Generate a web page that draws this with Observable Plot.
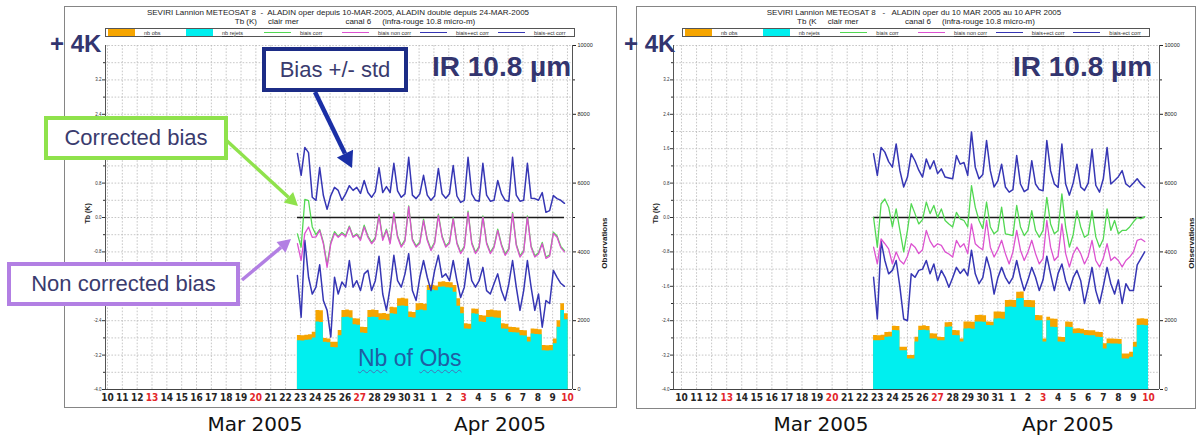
<!DOCTYPE html>
<html><head><meta charset="utf-8">
<script src="https://cdn.jsdelivr.net/npm/d3@7"></script>
<script src="https://cdn.jsdelivr.net/npm/@observablehq/plot@0.6"></script>
<style>
body{margin:0;background:#fff;font-family:"Liberation Sans",Arial,sans-serif;}
#root{position:relative;width:1198px;height:441px;overflow:hidden;background:#fff;}
.frame{position:absolute;border:1.5px solid #858585;box-sizing:border-box;}
.ttl{position:absolute;transform:translateX(-50%);font-size:8px;line-height:9px;color:#222;white-space:pre;}
.legend{position:absolute;height:9px;border:1px solid #555;box-sizing:border-box;display:flex;align-items:center;background:#fff;}
.legend .it{flex:1;display:flex;align-items:center;height:100%;}
.legend .sw{width:27px;margin-left:2px;}
.legend .lb{margin-left:9px;font-size:5.5px;color:#333;text-decoration:underline;white-space:nowrap;}
.big{position:absolute;color:#33356f;font-weight:bold;white-space:nowrap;}
.box{position:absolute;background:#fff;box-sizing:border-box;color:#3a3b6e;font-size:22px;display:flex;align-items:center;justify-content:center;white-space:nowrap;}
.month{position:absolute;transform:translateX(-50%);font-family:"DejaVu Sans",Verdana,sans-serif;font-size:20px;color:#111;white-space:nowrap;}
.plot{position:absolute;}
</style></head><body><div id="root"></div>
<script>
// ---------- shared ticks / labels ----------
const dayTicks  = [10,11,12,13,14,15,16,17,18,19,20,21,22,23,24,25,26,27,28,29,30,31,32,33,34,35,36,37,38,39,40,41];
const dayLabels = ["10","11","12","13","14","15","16","17","18","19","20","21","22","23","24","25","26","27","28","29","30","31","1","2","3","4","5","6","7","8","9","10"];
const sundays   = [13,20,27,34,41];
const kLabels   = [-4.0,-3.2,-2.4,-1.6,-0.8,0.0,0.8,1.6,2.4,3.2];
const kMinor    = [-3.6,-2.8,-2.0,-1.2,-0.4,0.4,1.2,2.0,2.8,3.6];
const obsLabels = [0,2000,4000,6000,8000,10000];
const obsMinor  = [1000,3000,5000,7000,9000];
const stepDays  = 0.25;   // 6-hourly data

// ---------- left panel (ALADIN double) ----------
const leftStart = 22.8;
const leftUpper = [1.49,0.98,1.63,1.51, 0.47,0.40,1.16,0.51, 0.19,0.51,0.70,0.63, 0.40,0.55,0.74,0.63,
  0.70,0.56,0.86,0.58, 0.47,0.60,1.16,0.58, 0.72,0.58,1.26,0.62, 0.47,0.55,1.40,0.52, 0.44,0.55,0.98,0.52,
  0.40,0.50,1.14,0.55, 0.45,0.55,1.21,0.50, 0.35,0.40,1.40,0.55, 0.40,0.38,1.26,0.52, 0.38,0.40,0.86,0.55,
  0.40,0.38,1.40,0.52, 0.38,0.40,1.26,0.45, 0.44,0.40,0.58,0.12, 0.16,0.51,0.44,0.40, 0.33];
const leftCorr = [-0.38,-0.69,0.42,0.39, -0.22,-0.40,-0.28,-0.58, -1.10,-0.58,-0.33,-0.44, -0.35,-0.42,-0.20,-0.44,
  -0.38,-0.50,-0.18,-0.43, -0.58,-0.47,0.08,-0.50, -0.27,-0.58,0.12,-0.43, -0.66,-0.52,0.27,-0.50, -0.66,-0.57,-0.04,-0.50,
  -0.74,-0.57,0.08,-0.43, -0.66,-0.57,0.00,-0.58, -0.81,-0.67,0.15,-0.58, -0.81,-0.67,0.04,-0.58, -0.81,-0.67,-0.27,-0.62,
  -0.85,-0.72,0.12,-0.62, -0.89,-0.77,0.04,-0.66, -0.89,-0.82,-0.58,-0.92, -0.87,-0.34,-0.43,-0.67, -0.77];
const leftNonCorr = [-0.61,-1.00,-0.37,-0.22, -0.46,-0.45,-0.30,-0.61, -1.16,-0.61,-0.37,-0.46, -0.38,-0.45,-0.22,-0.46,
  -0.40,-0.53,-0.22,-0.46, -0.61,-0.50,0.05,-0.53, -0.30,-0.61,0.09,-0.46, -0.69,-0.55,0.25,-0.53, -0.69,-0.60,-0.07,-0.53,
  -0.77,-0.60,0.05,-0.46, -0.69,-0.60,-0.03,-0.61, -0.84,-0.70,0.12,-0.61, -0.84,-0.70,0.01,-0.61, -0.84,-0.70,-0.30,-0.65,
  -0.88,-0.75,0.09,-0.65, -0.92,-0.80,0.01,-0.69, -0.92,-0.85,-0.61,-0.95, -0.90,-0.37,-0.46,-0.70, -0.80];
const leftLower = [-1.35,-2.32,-0.53,-1.39, -1.78,-1.62,-1.10,-1.93, -2.16,-2.78,-1.39,-1.78, -1.50,-1.62,-1.00,-1.62,
  -1.47,-1.70,-1.31,-1.23, -1.70,-1.47,-0.90,-1.78, -2.16,-1.62,-0.88,-1.47, -1.62,-1.31,-0.84,-1.70, -1.93,-1.39,-1.00,-1.39,
  -1.70,-1.23,-0.88,-1.39, -1.31,-1.47,-1.00,-1.47, -1.86,-1.62,-0.95,-1.47, -1.62,-1.47,-1.16,-1.70, -1.78,-1.54,-1.31,-1.70,
  -1.93,-1.54,-1.00,-1.62, -2.16,-1.70,-1.00,-1.62, -2.16,-1.78,-2.55,-1.93, -2.00,-1.23,-1.39,-1.53, -1.60];
const leftTotal = [1570,1560,1580,1590, 1665, 2300,2290, 1480,1470, 1375,1370, 1715, 2300,2310,2290, 2060,2050, 1810,1800,
  2300,2310,2300, 2200,2210,2190, 2390,2380, 2640,2650,2630, 2250,2240, 2490,2500,2480, 3020,3030,3010, 3120,3130,3110,3100,
  3020, 2640, 2390, 1910,1900, 2340,2330, 2150,2140, 2300,2310,2290,2280, 1910,1900, 1810,1800,1790, 1715,1710, 1520,
  1760,1750,1740, 1280,1270,1280, 1470, 2000, 2490, 2200];
const leftCyan = [1420,1410,1430,1440, 1500, 1960,1950, 1370,1360, 1220,1215, 1560, 2090,2100,2080, 1880,1870, 1640,1630,
  2090,2100,2090, 2010,2020,2000, 2200,2190, 2420,2430,2410, 2090,2080, 2300,2310,2290, 2880,2890,2870, 2970,2980,2960,2950,
  2830, 2420, 2200, 1760,1750, 2200,2190, 1960,1950, 2090,2100,2080,2070, 1760,1750, 1660,1650,1640, 1560,1555, 1380,
  1610,1600,1590, 1130,1120,1130, 1330, 1810, 2300, 2030];

// ---------- right panel (ALADIN oper) ----------
const rightStart = 22.75;
const rightUpper = [1.48,0.98,1.63,1.52, 1.30,1.17,1.71,1.09, 0.71,0.94,1.48,1.32, 1.10,0.94,1.36,1.13,
  1.32,1.02,1.13,0.94, 0.92,0.90,1.44,1.24, 1.28,0.98,1.99,1.17, 0.90,1.00,1.79,1.09, 0.71,0.85,1.24,0.71,
  0.59,0.65,1.44,0.78, 0.60,0.66,1.32,0.78, 0.65,0.62,1.79,1.09, 0.78,0.70,1.71,0.78, 0.52,0.80,1.24,0.71,
  0.63,0.80,1.59,0.75, 0.59,0.90,1.63,0.78, 0.86,0.95,1.09,0.78, 0.71,0.80,0.90,0.78, 0.70];
const rightCorr = [0.00,-0.69,0.32,0.43, 0.24,-0.22,0.20,-0.30, -0.80,-0.30,0.32,0.09, -0.15,-0.05,0.36,0.09,
  0.28,0.00,0.20,-0.07, -0.15,-0.22,0.12,-0.03, -0.07,-0.22,0.74,0.24, -0.07,-0.26,0.36,-0.22, -0.38,-0.30,0.24,-0.38,
  -0.40,-0.42,0.28,-0.22, -0.42,-0.30,0.16,-0.30, -0.46,-0.30,0.47,-0.15, -0.38,-0.30,0.55,-0.22, -0.69,-0.40,0.16,-0.22,
  -0.46,-0.40,0.16,-0.45, -0.69,-0.50,0.20,-0.30, -0.07,-0.38,-0.30,-0.30, -0.22,-0.10,0.00,-0.03, 0.02];
const rightNonCorr = [-0.69,-1.08,-0.50,-0.61, -0.73,-1.08,-0.80,-1.00, -1.08,-0.90,-0.61,-0.69, -0.84,-0.75,-0.30,-0.55,
  -0.69,-0.61,-0.65,-0.80, -0.85,-0.92,-0.53,-0.69, -0.61,-0.84,-0.15,-0.61, -0.69,-0.75,-0.07,-0.69, -0.92,-0.75,-0.53,-0.84,
  -1.08,-0.80,-0.30,-0.76, -1.00,-0.80,-0.53,-0.84, -1.08,-0.95,-0.07,-0.69, -1.00,-0.90,-0.15,-0.84, -1.15,-0.85,-0.69,-0.84,
  -1.08,-0.90,-0.53,-1.00, -1.15,-0.95,-0.61,-1.00, -0.92,-1.00,-1.15,-1.00, -0.92,-0.80,-0.53,-0.50, -0.56];
const rightLower = [-1.39,-2.36,-0.55,-1.00, -1.31,-1.23,-1.00,-1.62, -2.36,-2.40,-1.31,-1.39, -1.23,-1.20,-1.00,-1.31,
  -1.08,-1.47,-1.23,-1.39, -1.62,-1.40,-1.16,-1.30, -1.20,-1.35,-0.76,-1.31, -1.54,-1.40,-0.92,-1.23, -1.78,-1.40,-1.16,-1.39,
  -1.54,-1.39,-1.00,-1.39, -1.70,-1.45,-1.16,-1.39, -1.70,-1.45,-0.90,-1.31, -1.70,-1.30,-1.08,-1.47, -1.70,-1.40,-1.23,-1.47,
  -2.00,-1.60,-1.16,-1.70, -2.00,-1.60,-1.16,-1.54, -1.78,-1.45,-2.00,-1.54, -1.70,-1.70,-1.10,-0.95, -0.80];
const rightTotal = [1570,1560,1575, 1660,1665, 1840,1835, 1230,1225, 990,985, 1520, 1840,1850,1835, 1620,1615, 1520,1515,
  1940,1945, 1715,1710, 1470, 1960,1965,1955, 2150,2155,2145, 1960,1955, 2250,2255,2245, 2590,2595,2585, 2830,2835,
  2590,2585,2580, 2150,2145, 1470, 2100, 2050,2045, 1520,1515, 1960,1955, 1760,1765,1755, 1715,1710,1705, 1665,1660, 1330,
  1470,1465,1460,1455, 1035,1030, 1085, 1375, 2050,2055,2045];
const rightCyan = [1420,1415,1425, 1520,1525, 1715,1710, 1130,1125, 890,885, 1380, 1715,1720,1710, 1470,1465, 1420,1415,
  1810,1815, 1570,1565, 1380, 1760,1765,1755, 1960,1965,1955, 1860,1855, 2050,2055,2045, 2390,2395,2385, 2640,2645,
  2390,2385,2380, 2000,1995, 1380, 2000, 1810,1805, 1380,1375, 1810,1805, 1620,1625,1615, 1570,1565,1560, 1520,1515, 1180,
  1330,1325,1320,1315, 890,885, 940, 1230, 1860,1865,1855];

// ---------- texts ----------
const leftTitle1  = "SEVIRI Lannion METEOSAT 8  -  ALADIN oper depuis 10-MAR-2005, ALADIN double depuis 24-MAR-2005";
const rightTitle1 = "SEVIRI Lannion METEOSAT 8   -   ALADIN oper du 10 MAR 2005 au 10 APR 2005";
const title2      = "Tb (K)     clair mer                     canal 6     (infra-rouge 10.8 micro-m)";
const legendItems = [
  {kind:"rect", key:"orange", label:"nb obs"},
  {kind:"rect", key:"cyan",   label:"nb rejets"},
  {kind:"line", key:"green",  label:"biais corr"},
  {kind:"line", key:"pink",   label:"biais non corr"},
  {kind:"line", key:"blue",   label:"biais+ect corr"},
  {kind:"line", key:"blue",   label:"biais-ect corr"}
];
const colors = {blue:"#3636b4", green:"#52d852", pink:"#dc52d0", orange:"#f6a500", cyan:"#00efef"};

const root = document.getElementById("root");
function add(html){ root.insertAdjacentHTML("beforeend", html); }

function panelPlot({width, marginLeft, marginRight, xDomain, start, upper, corr, noncorr, lower, total, cyanV}) {
  const toK = v => -4 + v * 8 / 10000;
  const fromK = k => Math.round((k + 4) * 1250);
  const data = upper.map((_, i) => ({
    t: start + i * stepDays,
    up: upper[i], corr: corr[i], non: noncorr[i], low: lower[i], total: total[i], cy: cyanV[i]
  }));
  const last = data[data.length - 1];
  // step areas: each 6-h count holds until the next time step
  const steps = data.concat([{...last, t: last.t + stepDays}]);
  const gridStyle = {stroke:"#b9b9b9", strokeOpacity:1, strokeDasharray:"1.6,1.6", strokeWidth:0.8};
  const lbl = d => dayLabels[dayTicks.indexOf(d)];
  const axisFont = "'Liberation Sans Narrow','DejaVu Sans Condensed','Liberation Sans',Arial,sans-serif";
  return Plot.plot({
    width, height: 365, marginTop: 5, marginBottom: 16, marginLeft, marginRight,
    style: {background: "transparent", fontFamily: "'Liberation Sans',Arial,sans-serif", overflow: "visible"},
    x: {domain: xDomain, axis: null, label: null},
    y: {domain: [-4, 4], axis: null, label: null},
    marks: [
      Plot.gridX(dayTicks, gridStyle),
      Plot.gridY(kLabels.concat(kMinor, [4]), gridStyle),
      Plot.areaY(steps, {x: "t", y1: () => -4, y2: d => toK(d.total), fill: colors.orange, curve: "step-after"}),
      Plot.areaY(steps, {x: "t", y1: () => -4, y2: d => toK(d.cy), fill: colors.cyan, curve: "step-after"}),
      Plot.ruleY([0], {x1: data[0].t, x2: last.t, stroke: "#1a1a1a", strokeWidth: 1.6}),
      Plot.line(data, {x: "t", y: "up",  stroke: colors.blue,  strokeWidth: 1.5}),
      Plot.line(data, {x: "t", y: "low", stroke: colors.blue,  strokeWidth: 1.5}),
      Plot.line(data, {x: "t", y: "corr", stroke: colors.green, strokeWidth: 1.3}),
      Plot.line(data, {x: "t", y: "non", stroke: colors.pink,  strokeWidth: 1.3}),
      // frame lines
      Plot.ruleY([-4], {stroke: "#444", strokeWidth: 1}),
      Plot.ruleX([xDomain[0]], {stroke: "#555", strokeWidth: 1}),
      Plot.ruleX([xDomain[1]], {stroke: "#555", strokeWidth: 1}),
      // left axis (Tb)
      Plot.axisY(kLabels, {anchor: "left", label: null, tickSize: 3, tickPadding: 1, fontSize: 4.5, color: "#333", tickFormat: d => d.toFixed(1)}),
      Plot.axisY(kMinor, {anchor: "left", label: null, tickSize: 2, color: "#333", tickFormat: () => ""}),
      // right axis (observations)
      Plot.axisY(obsLabels.map(toK), {anchor: "right", label: null, tickSize: 3, tickPadding: 2, fontSize: 5.5, color: "#222", tickFormat: k => String(fromK(k))}),
      Plot.axisY(obsMinor.map(toK), {anchor: "right", label: null, tickSize: 2, color: "#222", tickFormat: () => ""}),
      // day axis
      Plot.axisX(dayTicks.filter(d => !sundays.includes(d)), {anchor: "bottom", label: null, tickSize: 0, tickPadding: 4, fontSize: 10, fontWeight: "bold", color: "#262626", fontFamily: axisFont, tickFormat: lbl}),
      Plot.axisX(sundays, {anchor: "bottom", label: null, tickSize: 0, tickPadding: 4, fontSize: 10, fontWeight: "bold", color: "#e3262b", fontFamily: axisFont, tickFormat: lbl}),
      Plot.text(["Tb (K)"], {frameAnchor: "left", rotate: -90, dx: -18, dy: 6, fontSize: 7, fontWeight: "bold", fill: "#222"}),
      Plot.text(["Observations"], {frameAnchor: "right", rotate: -90, dx: 32, fontSize: 8, fontWeight: "bold", fill: "#222"})
    ]
  });
}

function legendHtml(left, top, width) {
  const items = legendItems.map(it => {
    const sw = it.kind === "rect"
      ? `<div class="sw" style="height:7px;background:${colors[it.key]}"></div>`
      : `<div class="sw" style="height:1.5px;background:${colors[it.key]}"></div>`;
    return `<div class="it">${sw}<div class="lb">${it.label}</div></div>`;
  }).join("");
  return `<div class="legend" style="left:${left}px;top:${top}px;width:${width}px">${items}</div>`;
}

// frames
add(`<div class="frame" style="left:64px;top:6px;width:553px;height:402px"></div>`);
add(`<div class="frame" style="left:636px;top:6px;width:560px;height:403px"></div>`);

// plots
const pl = panelPlot({width: 549, marginLeft: 39, marginRight: 43, xDomain: [9.865, 41.34], start: leftStart,
  upper: leftUpper, corr: leftCorr, noncorr: leftNonCorr, lower: leftLower, total: leftTotal, cyanV: leftCyan});
pl.classList.add("plot"); pl.style.left = "66px"; pl.style.top = "40px"; root.appendChild(pl);
const pr = panelPlot({width: 556, marginLeft: 35, marginRight: 35, xDomain: [9.47, 41.73], start: rightStart,
  upper: rightUpper, corr: rightCorr, noncorr: rightNonCorr, lower: rightLower, total: rightTotal, cyanV: rightCyan});
pr.classList.add("plot"); pr.style.left = "638px"; pr.style.top = "40px"; root.appendChild(pr);

// titles and legends
add(`<div class="ttl" style="left:338px;top:8px">${leftTitle1}</div>`);
add(`<div class="ttl" style="left:355px;top:17px">${title2}</div>`);
add(`<div class="ttl" style="left:914px;top:8px">${rightTitle1}</div>`);
add(`<div class="ttl" style="left:916px;top:17px">${title2.replace("Tb (K)", "Tb (K")}</div>`);
add(legendHtml(105, 28, 470));
add(legendHtml(682, 28, 468));

// months under the panels
add(`<div class="month" style="left:255px;top:412px">Mar 2005</div>`);
add(`<div class="month" style="left:500px;top:412px">Apr 2005</div>`);
add(`<div class="month" style="left:821px;top:412px">Mar 2005</div>`);
add(`<div class="month" style="left:1068px;top:412px">Apr 2005</div>`);

// big labels
add(`<div class="big" style="left:50px;top:30px;font-size:24px">+ 4K</div>`);
add(`<div class="big" style="left:624px;top:30px;font-size:24px">+ 4K</div>`);
add(`<div class="big" style="left:432px;top:51px;font-size:28px">IR 10.8 µm</div>`);
add(`<div class="big" style="left:1013px;top:51px;font-size:28px">IR 10.8 µm</div>`);

// annotation boxes (left panel)
add(`<div class="box" style="left:262px;top:47px;width:146px;height:45px;border:4px solid #1c2c86">Bias +/- std</div>`);
add(`<div class="box" style="left:44px;top:116px;width:184px;height:44px;border:4px solid #8fe24c">Corrected bias</div>`);
add(`<div class="box" style="left:7px;top:262px;width:233px;height:44px;border:4px solid #b27fe3">Non corrected bias</div>`);
add(`<div style="position:absolute;left:358px;top:345px;font-size:23px;color:#1f5fa3;white-space:nowrap">` +
    `<span style="text-decoration:underline wavy #4a6fb5;text-decoration-thickness:1px;text-underline-offset:3px">Nb</span> of ` +
    `<span style="text-decoration:underline wavy #4a6fb5;text-decoration-thickness:1px;text-underline-offset:3px">Obs</span></div>`);

// arrows
function arrow(x1, y1, x2, y2, color, w, hl, hw) {
  const ang = Math.atan2(y2 - y1, x2 - x1), c = Math.cos(ang), s = Math.sin(ang);
  const bx = x2 - hl * c, by = y2 - hl * s;
  const p1 = [bx - hw * s, by + hw * c], p2 = [bx + hw * s, by - hw * c];
  return `<line x1="${x1}" y1="${y1}" x2="${bx}" y2="${by}" stroke="${color}" stroke-width="${w}"/>` +
         `<polygon points="${x2},${y2} ${p1.join(",")} ${p2.join(",")}" fill="${color}"/>`;
}
add(`<svg style="position:absolute;left:0;top:0" width="1198" height="441">` +
    arrow(315, 92, 352, 168, "#1a2fa6", 4.5, 16, 9) +
    arrow(226, 140, 298, 206, "#8fe24c", 3.5, 13, 7) +
    arrow(242, 280, 291, 239, "#b27fe3", 3.5, 13, 7) +
    `</svg>`);
</script>
</body></html>
